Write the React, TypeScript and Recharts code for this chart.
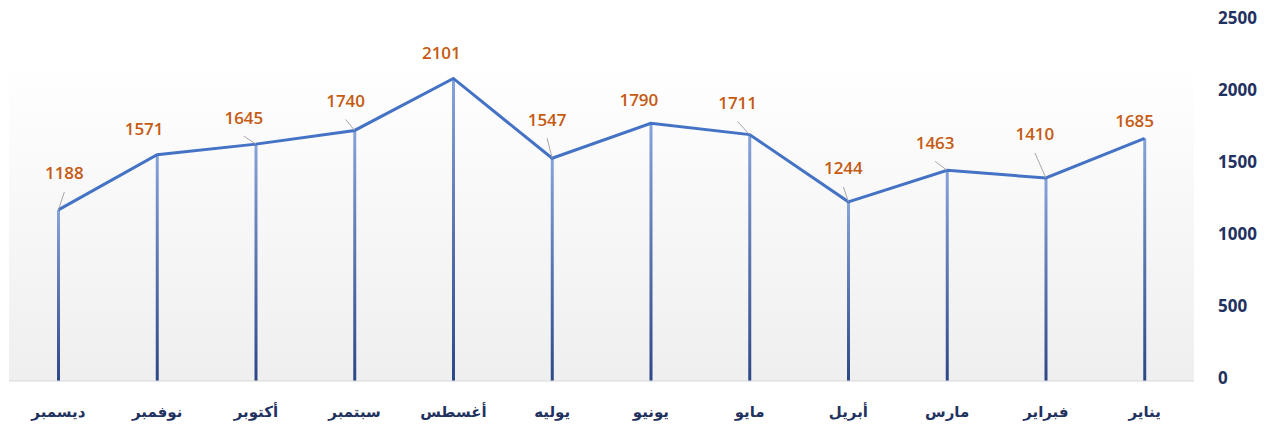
import React from 'react';
import { ComposedChart, Line, Bar, XAxis, YAxis, LabelList } from 'recharts';

const months = ['يناير', 'فبراير', 'مارس', 'أبريل', 'مايو', 'يونيو', 'يوليه', 'أغسطس', 'سبتمبر', 'أكتوبر', 'نوفمبر', 'ديسمبر'];
const values = [1685, 1410, 1463, 1244, 1711, 1790, 1547, 2101, 1740, 1645, 1571, 1188];
const yTicks = [0, 500, 1000, 1500, 2000, 2500];

// label nudges (px from the point) and whether a leader line is drawn
const labelDx = [-10, -11, -12, -5, -12, -12, -5, -12, -9, -12, -13, 6];
const labelDy = [-18, -44, -28, -34, -32, -24, -39, -26, -30, -27, -26, -37];
const leaders = [false, true, true, true, true, false, true, false, true, true, false, true];

const data = months.map((m, i) => ({ month: m, value: values[i] }));

const navy = '#1f3260';
const orange = '#c55a11';

const PointLabel = (props: any) => {
  const { x, y, value, index } = props;
  const lx = x + labelDx[index];
  const ly = y + labelDy[index];
  return (
    <g>
      {leaders[index] && (
        <line x1={lx} y1={ly + 19} x2={x} y2={y} stroke="#a6a6a6" strokeWidth={1} />
      )}
      <text
        x={lx}
        y={ly}
        textAnchor="middle"
        dominantBaseline="central"
        fill={orange}
        fontSize={17}
        fontWeight={600}
        fontFamily="'Open Sans', sans-serif"
      >
        {value}
      </text>
    </g>
  );
};

export default function App() {
  return (
    <div style={{ position: 'absolute', left: 0, top: 0, width: 1271, height: 432, background: '#fff' }}>
      <div
        style={{
          position: 'absolute',
          left: 9,
          top: 62,
          width: 1185,
          height: 319,
          background: 'linear-gradient(to bottom, #ffffff, #efefef)',
        }}
      />
      <div style={{ position: 'absolute', left: 0, top: 0 }}>
        <ComposedChart width={1271} height={432} data={data} margin={{ top: 21, right: 0, bottom: 0, left: 9 }}>
          <defs>
            <linearGradient id="dropGrad" x1="0" y1="0" x2="0" y2="1">
              <stop offset="0%" stopColor="#86a3da" />
              <stop offset="100%" stopColor="#2c4785" />
            </linearGradient>
          </defs>
          <XAxis
            dataKey="month"
            reversed
            scale="band"
            height={51}
            tickLine={false}
            axisLine={{ stroke: '#d9d9d9', strokeWidth: 1 }}
            tickMargin={19}
            interval={0}
            tick={{ fill: navy, fontSize: 15, fontWeight: 600, fontFamily: "'DejaVu Sans', sans-serif" }}
          />
          <YAxis
            orientation="right"
            domain={[0, 2500]}
            ticks={yTicks}
            width={77}
            axisLine={false}
            tickLine={false}
            tickMargin={18}
            dy={-3}
            tick={{ fill: navy, fontSize: 17, fontWeight: 700, fontFamily: "'Open Sans', sans-serif" }}
          />
          <Bar dataKey="value" barSize={3} fill="url(#dropGrad)" isAnimationActive={false} />
          <Line
            type="linear"
            dataKey="value"
            stroke="#4472c4"
            strokeWidth={3}
            dot={false}
            activeDot={false}
            isAnimationActive={false}
          >
            <LabelList dataKey="value" content={PointLabel} />
          </Line>
        </ComposedChart>
      </div>
    </div>
  );
}
